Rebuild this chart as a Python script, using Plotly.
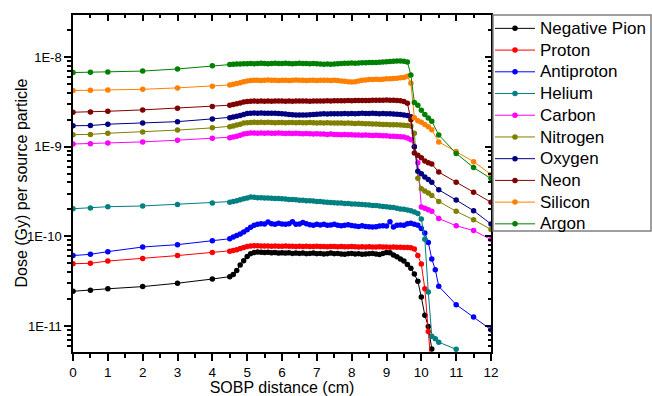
import plotly.graph_objects as go

# ---------------- data ----------------
X_ENTRANCE = [0, 0.5, 1, 2, 3, 4]
X_PLATEAU = [4.5, 4.6, 4.7, 4.8, 4.9, 5.0, 5.1, 5.2, 5.3, 5.4,
             5.5, 5.6, 5.7, 5.8, 5.9, 6.0, 6.1, 6.2, 6.3, 6.4,
             6.5, 6.6, 6.7, 6.8, 6.9, 7.0, 7.1, 7.2, 7.3, 7.4,
             7.5, 7.6, 7.7, 7.8, 7.9, 8.0, 8.1, 8.2, 8.3, 8.4,
             8.5, 8.6, 8.7, 8.8, 8.9, 9.0, 9.1, 9.2, 9.3, 9.4,
             9.5, 9.6]
X_DISTAL = [9.7, 9.8, 9.9, 10.0, 10.1, 10.2, 10.3, 10.5, 11, 11.5, 12]
X_DISTAL_SHORT = [9.7, 9.8, 9.9, 10.0, 10.1, 10.2, 10.3]
X_DISTAL_HELIUM = [9.7, 9.8, 9.9, 10.0, 10.1, 10.2, 10.3, 10.4, 10.5, 11]
X_DISTAL_ANTIPROTON = [9.7, 9.8, 9.9, 10.0, 10.1, 10.2, 10.3, 10.4, 10.5, 11, 11.5, 12]

# dose values, in units of 1e-11 Gy
pion = [2.44, 2.5, 2.6, 2.75, 3.0, 3.34,
        3.55, 3.75, 4.15, 4.8, 5.35, 5.95, 6.4, 6.6, 6.7, 6.65,
        6.6, 6.65, 6.55, 6.6, 6.5, 6.55, 6.5, 6.55, 6.45, 6.5,
        6.45, 6.5, 6.4, 6.45, 6.5, 6.4, 6.45, 6.35, 6.4, 6.5,
        6.4, 6.45, 6.35, 6.3, 6.4, 6.45, 6.35, 6.4, 6.3, 6.35,
        6.4, 6.45, 6.35, 6.25, 6.45, 6.6, 6.55, 6.2, 5.9, 5.6,
        5.3, 4.85,
        4.4, 3.8, 3.15, 2.1, 1.32, 0.99, 0.555]
proton = [4.95, 5.0, 5.3, 5.64, 6.1, 6.62,
          6.8, 6.95, 7.1, 7.3, 7.5, 7.7, 7.8, 7.85, 7.85, 7.8,
          7.8, 7.8, 7.75, 7.8, 7.75, 7.75, 7.8, 7.75, 7.75, 7.7,
          7.75, 7.7, 7.75, 7.7, 7.7, 7.75, 7.7, 7.7, 7.65, 7.7,
          7.7, 7.65, 7.7, 7.65, 7.65, 7.7, 7.65, 7.6, 7.65, 7.6,
          7.65, 7.6, 7.6, 7.65, 7.6, 7.6, 7.55, 7.6, 7.55, 7.55,
          7.5, 7.5,
          7.45, 7.2, 6.1, 4.9, 2.6, 0.87, 0.3]
# dose values, in units of 1e-10 Gy
antiproton = [0.61, 0.63, 0.675, 0.76, 0.807, 0.89,
              0.94, 0.98, 1.02, 1.06, 1.12, 1.18, 1.26, 1.33, 1.36, 1.38,
              1.37, 1.44, 1.38, 1.36, 1.4, 1.37, 1.36, 1.38, 1.45, 1.36,
              1.37, 1.43, 1.38, 1.35, 1.33, 1.36, 1.34, 1.36, 1.33, 1.34,
              1.36, 1.33, 1.31, 1.33, 1.35, 1.32, 1.3, 1.29, 1.31, 1.29,
              1.28, 1.27, 1.28, 1.3, 1.31, 1.3, 1.45, 1.27, 1.33, 1.34,
              1.33, 1.38,
              1.4, 1.36, 1.33, 1.22, 1.09, 0.855, 0.56, 0.425, 0.277, 0.173, 0.126, 0.091]
helium = [2.03, 2.07, 2.14, 2.18, 2.27, 2.35,
          2.4, 2.45, 2.5, 2.56, 2.62, 2.68, 2.74, 2.72, 2.7, 2.7,
          2.68, 2.67, 2.66, 2.64, 2.64, 2.62, 2.61, 2.58, 2.57, 2.55,
          2.53, 2.52, 2.5, 2.49, 2.47, 2.45, 2.44, 2.42, 2.4, 2.39,
          2.37, 2.36, 2.35, 2.33, 2.32, 2.3, 2.29, 2.28, 2.26, 2.25,
          2.23, 2.21, 2.2, 2.18, 2.15, 2.13, 2.11, 2.09, 2.05, 2.02,
          2.0, 1.97,
          1.93, 1.87, 1.8, 1.56, 0.93, 0.24, 0.077, 0.072, 0.066, 0.055]
# dose values, in units of 1e-9 Gy
carbon = [1.07, 1.08, 1.10, 1.13, 1.18, 1.24,
          1.26, 1.28, 1.31, 1.34, 1.38, 1.40, 1.42, 1.42, 1.41, 1.42,
          1.41, 1.42, 1.41, 1.41, 1.42, 1.41, 1.4, 1.41, 1.4, 1.41,
          1.4, 1.39, 1.4, 1.39, 1.38, 1.39, 1.38, 1.38, 1.37, 1.38,
          1.37, 1.37, 1.36, 1.37, 1.36, 1.36, 1.35, 1.35, 1.34, 1.35,
          1.34, 1.33, 1.34, 1.33, 1.32, 1.32, 1.31, 1.31, 1.3, 1.29,
          1.28, 1.25,
          1.19, 1.0, 0.66, 0.212, 0.205, 0.198, 0.19, 0.158, 0.131, 0.116, 0.092]
nitrogen = [1.36, 1.37, 1.41, 1.46, 1.53, 1.62,
            1.67, 1.7, 1.74, 1.78, 1.83, 1.85, 1.86, 1.87, 1.86, 1.87,
            1.86, 1.87, 1.86, 1.85, 1.86, 1.86, 1.85, 1.86, 1.86, 1.85,
            1.86, 1.85, 1.85, 1.86, 1.85, 1.84, 1.85, 1.84, 1.85, 1.84,
            1.83, 1.84, 1.83, 1.82, 1.83, 1.82, 1.81, 1.82, 1.81, 1.8,
            1.8, 1.79, 1.79, 1.78, 1.77, 1.77, 1.76, 1.75, 1.75, 1.74,
            1.73, 1.72,
            1.7, 1.41, 0.445, 0.34, 0.32, 0.305, 0.286, 0.245, 0.19, 0.153, 0.119]
oxygen = [1.71, 1.72, 1.78, 1.83, 1.9, 2.04,
          2.1, 2.14, 2.18, 2.23, 2.29, 2.34, 2.36, 2.37, 2.36, 2.37,
          2.36, 2.35, 2.36, 2.35, 2.34, 2.33, 2.31, 2.29, 2.27, 2.26,
          2.25, 2.26, 2.25, 2.27, 2.29, 2.3, 2.31, 2.32, 2.31, 2.32,
          2.33, 2.32, 2.33, 2.34, 2.33, 2.34, 2.33, 2.34, 2.35, 2.34,
          2.34, 2.35, 2.34, 2.33, 2.34, 2.33, 2.32, 2.31, 2.3, 2.28,
          2.26, 2.22,
          2.15, 1.0, 0.53, 0.5, 0.46, 0.43, 0.4, 0.33, 0.254, 0.193, 0.137]
neon = [2.42, 2.44, 2.48, 2.57, 2.68, 2.8,
        2.9, 2.95, 3.0, 3.07, 3.14, 3.19, 3.21, 3.22, 3.21, 3.22,
        3.21, 3.22, 3.21, 3.22, 3.23, 3.22, 3.21, 3.22, 3.21, 3.22,
        3.22, 3.23, 3.22, 3.21, 3.22, 3.23, 3.22, 3.23, 3.24, 3.23,
        3.24, 3.25, 3.24, 3.25, 3.26, 3.25, 3.26, 3.27, 3.28, 3.27,
        3.28, 3.29, 3.3, 3.29, 3.3, 3.31, 3.3, 3.29, 3.28, 3.25,
        3.18, 3.05,
        2.0, 0.85, 0.8, 0.75, 0.69, 0.66, 0.64, 0.52, 0.40, 0.31, 0.24]
silicon = [4.22, 4.25, 4.29, 4.36, 4.52, 4.71,
           4.88, 4.95, 5.05, 5.15, 5.3, 5.4, 5.45, 5.5, 5.5, 5.45,
           5.5, 5.55, 5.5, 5.5, 5.45, 5.5, 5.5, 5.45, 5.5, 5.55,
           5.5, 5.5, 5.45, 5.5, 5.5, 5.45, 5.5, 5.5, 5.5, 5.45,
           5.5, 5.45, 5.4, 5.35, 5.3, 5.25, 5.3, 5.4, 5.5, 5.55,
           5.6, 5.6, 5.65, 5.6, 5.65, 5.7, 5.7, 5.75, 5.8, 5.85,
           5.9, 6.1,
           5.1, 2.1, 1.95, 1.87, 1.77, 1.67, 1.54, 1.13, 0.88, 0.68, 0.49]
argon = [6.7, 6.75, 6.8, 6.96, 7.35, 8.0,
         8.25, 8.3, 8.35, 8.35, 8.4, 8.4, 8.45, 8.4, 8.45, 8.5,
         8.45, 8.4, 8.45, 8.5, 8.45, 8.45, 8.5, 8.45, 8.4, 8.45,
         8.5, 8.45, 8.45, 8.4, 8.45, 8.4, 8.35, 8.3, 8.35, 8.3,
         8.35, 8.4, 8.45, 8.5, 8.5, 8.55, 8.5, 8.55, 8.6, 8.6,
         8.65, 8.7, 8.7, 8.75, 8.8, 8.85, 8.9, 8.95, 9.0, 9.0,
         8.95, 8.8,
         6.3, 3.1, 2.9, 2.55, 2.28, 2.08, 1.92, 1.35, 0.84, 0.585, 0.44]

SERIES = [
    ("Negative Pion", pion, 1e-11, X_DISTAL_SHORT, "#000000"),
    ("Proton", proton, 1e-11, X_DISTAL_SHORT, "#FF0000"),
    ("Antiproton", antiproton, 1e-10, X_DISTAL_ANTIPROTON, "#0000FF"),
    ("Helium", helium, 1e-10, X_DISTAL_HELIUM, "#008080"),
    ("Carbon", carbon, 1e-9, X_DISTAL, "#FF00FF"),
    ("Nitrogen", nitrogen, 1e-9, X_DISTAL, "#808000"),
    ("Oxygen", oxygen, 1e-9, X_DISTAL, "#000080"),
    ("Neon", neon, 1e-9, X_DISTAL, "#800000"),
    ("Silicon", silicon, 1e-9, X_DISTAL, "#FF8000"),
    ("Argon", argon, 1e-9, X_DISTAL, "#008000"),
]

Y_TICK_VALS = [1e-11, 1e-10, 1e-9, 1e-8]
Y_TICK_TEXT = ["1E-11", "1E-10", "1E-9", "1E-8"]
Y_RANGE = [-11.29, -7.532]
X_RANGE = [0, 12]

FONT = "Liberation Sans, Arial, sans-serif"

# plot-area geometry (px) used to place the legend frame
W, H = 652, 396
ML, MR, MT, MB = 73, 161, 15, 44
PW, PH = W - ML - MR, H - MT - MB


def px_x(p):
    return (p - ML) / PW


def px_y(p):
    return (H - MB - p) / PH


fig = go.Figure()
for name, vals, unit, xd, color in SERIES:
    xs = X_ENTRANCE + X_PLATEAU + xd
    ys = [v * unit for v in vals]
    fig.add_trace(go.Scatter(
        x=xs, y=ys, mode="lines+markers",
        name='<span style="font-size:17px">' + name + "</span>",
        line=dict(color=color, width=1),
        marker=dict(color=color, size=5.5, symbol="circle", line=dict(width=0)),
    ))

# helper (empty) trace to activate mirrored inner-tick axes
fig.add_trace(go.Scatter(x=[None], y=[None], xaxis="x2", yaxis="y2",
                         showlegend=False, hoverinfo="skip"))

minor_y = [m * 10.0 ** e for e in range(-12, -7) for m in range(2, 10)]

fig.update_layout(
    width=W, height=H,
    margin=dict(l=ML, r=MR, t=MT, b=MB, autoexpand=False),
    paper_bgcolor="white", plot_bgcolor="white",
    font=dict(family=FONT, color="black", size=13),
    showlegend=True,
    legend=dict(
        x=px_x(490), y=px_y(12.5), xanchor="left", yanchor="top",
        borderwidth=0, bgcolor="rgba(0,0,0,0)",
        font=dict(family=FONT, size=14.4, color="black"),
        itemwidth=40, tracegroupgap=0, maxheight=380,
    ),
    shapes=[dict(type="rect", xref="paper", yref="paper",
                 x0=px_x(493), x1=px_x(651), y0=px_y(231), y1=px_y(15),
                 line=dict(color="#808080", width=1.5), fillcolor="rgba(0,0,0,0)")],
    annotations=[dict(text="Dose (Gy) per source particle", textangle=-90,
                      xref="paper", yref="paper", x=px_x(21), y=0.5,
                      xanchor="center", yanchor="middle", showarrow=False,
                      font=dict(family=FONT, size=16, color="black"))],
    xaxis=dict(
        range=X_RANGE, dtick=1, tick0=0,
        ticks="outside", ticklen=7, tickwidth=1.5, tickcolor="black",
        minor=dict(dtick=0.5, ticks="outside", ticklen=4, tickwidth=1.5, tickcolor="black", showgrid=False),
        showline=True, linecolor="black", linewidth=1.5, mirror=True,
        showgrid=False, zeroline=False,
        tickfont=dict(size=13.5),
        title=dict(text="SOBP distance (cm)", font=dict(size=16), standoff=6),
    ),
    yaxis=dict(
        type="log", range=Y_RANGE,
        tickvals=Y_TICK_VALS, ticktext=Y_TICK_TEXT,
        ticks="outside", ticklen=7, tickwidth=1.5, tickcolor="black",
        minor=dict(tickvals=minor_y, ticks="outside", ticklen=4, tickwidth=1.5, tickcolor="black", showgrid=False),
        showline=True, linecolor="black", linewidth=1.5, mirror=True,
        showgrid=False, zeroline=False,
        tickfont=dict(size=13),
    ),
    xaxis2=dict(
        overlaying="x", side="top", anchor="y", range=X_RANGE, dtick=1, tick0=0,
        ticks="inside", ticklen=6, tickwidth=1.5, tickcolor="black",
        minor=dict(dtick=0.5, ticks="inside", ticklen=3, tickwidth=1.5, tickcolor="black", showgrid=False),
        showticklabels=False, showline=False, showgrid=False, zeroline=False,
    ),
    yaxis2=dict(
        overlaying="y", side="right", anchor="x", type="log", range=Y_RANGE,
        tickvals=Y_TICK_VALS,
        ticks="inside", ticklen=6, tickwidth=1.5, tickcolor="black",
        minor=dict(tickvals=minor_y, ticks="inside", ticklen=3, tickwidth=1.5, tickcolor="black", showgrid=False),
        showticklabels=False, showline=False, showgrid=False, zeroline=False,
    ),
)

fig.write_html("out.html", config={"displayModeBar": False},
               post_script="document.body.style.margin='0';")
